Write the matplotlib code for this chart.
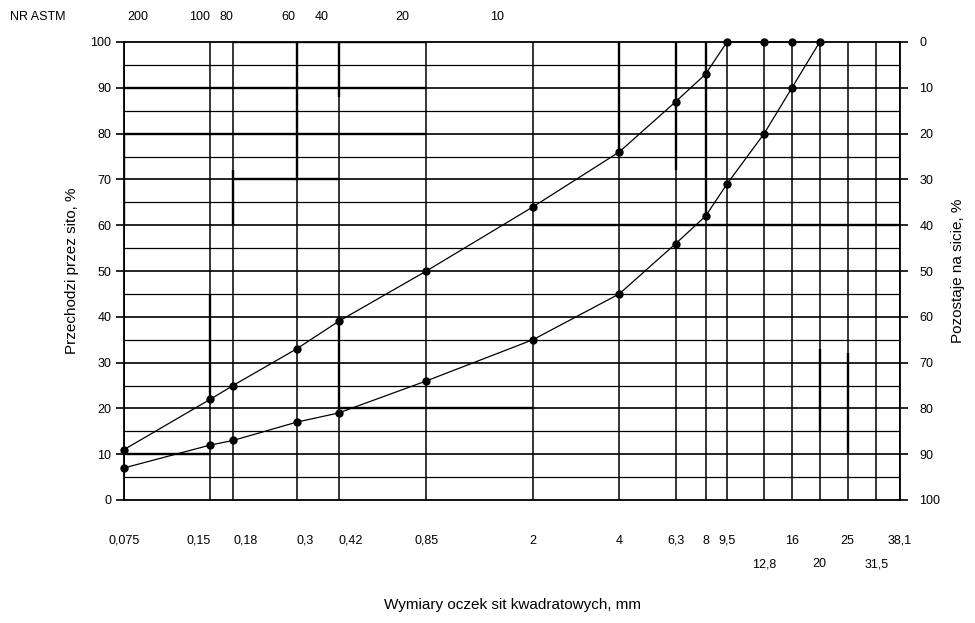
import matplotlib
matplotlib.use("Agg")
import matplotlib.pyplot as plt
import matplotlib.transforms as mtransforms

plt.rcParams['font.family'] = ['Liberation Sans', 'DejaVu Sans']

# Sieve sizes (mm) and bottom labels
sieve_sizes = [0.075, 0.15, 0.18, 0.3, 0.42, 0.85, 2, 4, 6.3, 8, 9.5, 12.8, 16, 20, 25, 31.5, 38.1]
row1_sizes = [0.075, 0.15, 0.18, 0.3, 0.42, 0.85, 2, 4, 6.3, 8, 9.5, 16, 25, 38.1]
row1_labels = ["0,075", "0,15", "0,18", "0,3", "0,42", "0,85", "2", "4", "6,3", "8", "9,5", "16", "25", "38,1"]
row2_sizes = [12.8, 20, 31.5]
row2_labels = ["12,8", "20", "31,5"]

# ASTM sieve numbers along the top (positions, mm)
astm_pos = [0.084, 0.138, 0.171, 0.28, 0.367, 0.70, 1.5]
astm_labels = ["200", "100", "80", "60", "40", "20", "10"]

# Grading curves (% passing)
fine_sizes = [0.075, 0.15, 0.18, 0.3, 0.42, 0.85, 2, 4, 6.3, 8, 9.5, 12.8, 16]
fine_pass = [11, 22, 25, 33, 39, 50, 64, 76, 87, 93, 100, 100, 100]
coarse_sizes = [0.075, 0.15, 0.18, 0.3, 0.42, 0.85, 2, 4, 6.3, 8, 9.5, 12.8, 16, 20]
coarse_pass = [7, 12, 13, 17, 19, 26, 35, 45, 56, 62, 69, 80, 90, 100]

left_ticks = [0, 10, 20, 30, 40, 50, 60, 70, 80, 90, 100]

fig = plt.figure(figsize=(9.75, 6.23), dpi=100)
ax = fig.add_axes([124/975, 1 - 500/623, 776/975, 458/623])
ax.set_xscale('log')
ax.set_xlim(0.075, 38.1)
ax.set_ylim(0, 100)

# grid: horizontal every 5 %, vertical at every sieve
for yv in range(5, 100, 5):
    ax.axhline(yv, color='black', lw=1.2 if yv % 10 == 0 else 0.9, zorder=1)
for xv in sieve_sizes:
    ax.axvline(xv, color='black', lw=1.1, zorder=1)

# emphasised (heavier) grid segments as in the scanned chart
bold_h = [(0.18, 0.85, 100), (0.075, 0.85, 90), (0.075, 0.85, 80), (0.18, 0.42, 70),
          (2, 38.1, 60), (0.42, 2, 20), (0.075, 0.15, 10)]
for x0, x1, yv in bold_h:
    ax.plot([x0, x1], [yv, yv], color='black', lw=1.7, solid_capstyle='butt', zorder=1)
bold_v = [(0.075, 60, 80), (0.18, 60, 72), (0.3, 70, 100), (0.42, 88, 100), (0.42, 19, 39),
          (0.15, 22, 45), (4, 76, 100), (6.3, 72, 100), (8, 62, 100), (20, 15, 33), (25, 10, 32)]
for xv, y0, y1 in bold_v:
    ax.plot([xv, xv], [y0, y1], color='black', lw=1.7, solid_capstyle='butt', zorder=1)

# curves
ax.plot(fine_sizes, fine_pass, color='black', lw=0.9, marker='o', ms=5, zorder=3, clip_on=False)
ax.plot(coarse_sizes, coarse_pass, color='black', lw=0.9, marker='o', ms=5, zorder=3, clip_on=False)

for s in ax.spines.values():
    s.set_linewidth(1.3)

# bottom tick labels: two rows
ax.set_xticks(row1_sizes, labels=row1_labels)
ax.set_xticks(row2_sizes, labels=row2_labels, minor=True)
ax.tick_params(axis='x', which='major', length=0, pad=25, labelsize=9)
ax.tick_params(axis='x', which='minor', length=0, pad=42, labelsize=9)
label_align = {"0,15": "right", "0,18": "left", "0,3": "left", "0,42": "left"}
for t in ax.get_xticklabels():
    if t.get_text() in label_align:
        t.set_horizontalalignment(label_align[t.get_text()])

ax.set_yticks(left_ticks)
ax.tick_params(axis='y', which='major', length=6, width=1.2, direction='out', labelsize=9, pad=3)
ax.set_ylabel("Przechodzi przez sito, %", fontsize=11, labelpad=8)

ax2 = ax.twinx()
ax2.set_ylim(0, 100)
ax2.set_yticks(left_ticks, labels=[str(100 - v) for v in left_ticks])
ax2.tick_params(axis='y', length=6, width=1.2, direction='out', labelsize=9, pad=8)
ax2.set_ylabel("Pozostaje na sicie, %", fontsize=11, rotation=90)
ax2.yaxis.set_label_coords(1.066, 0.5)
for s in ax2.spines.values():
    s.set_visible(False)

# ASTM labels at top
trans = mtransforms.blended_transform_factory(ax.transData, fig.transFigure)
for p, lab in zip(astm_pos, astm_labels):
    ax.text(p, 1 - 17/623, lab, transform=trans, ha='center', va='center', fontsize=9)
fig.text(10/975, 1 - 17/623, "NR ASTM", ha='left', va='center', fontsize=9)

fig.text(0.5 * (124 + 900) / 975, 1 - 605/623, "Wymiary oczek sit kwadratowych, mm",
         ha='center', va='center', fontsize=11)

fig.savefig("out.png", dpi=100)
